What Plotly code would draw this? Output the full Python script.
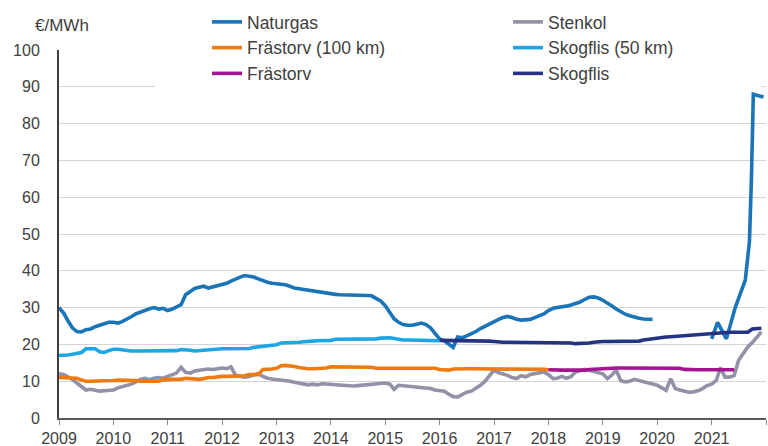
import pandas as pd
import plotly.graph_objects as go

# ---------------- data (€/MWh, monthly) ----------------
naturgas_start = "2009-01-01"
naturgas = [
    30, 28.5, 26.5, 24.5, 23.5, 23.4, 24, 24.2, 24.8, 25.2, 25.6, 26,          # 2009
    26, 25.8, 26.2, 26.8, 27.5, 28.3, 28.8, 29.3, 29.7, 30, 29.6, 29.8,        # 2010
    29.2, 29.6, 30.3, 30.8, 33.5, 34.5, 35.2, 35.5, 35.8, 35.3, 35.6, 36,      # 2011
    36.2, 36.6, 37.2, 37.8, 38.3, 38.7, 38.5, 38.3, 37.8, 37.3, 36.9, 36.6,    # 2012
    36.5, 36.4, 36.2, 35.8, 35.3, 35.1, 34.9, 34.7, 34.4, 34.2, 34.0, 33.9,    # 2013
    33.8, 33.6, 33.5, 33.5, 33.4, 33.4, 33.4, 33.4, 33.3, 33.2, 32.6, 31.8,    # 2014
    30.5, 28.5, 27, 26, 25.4, 25.2, 25.2, 25.5, 25.8, 25.4, 24.5, 23,          # 2015
    21.5, 21, 20.2, 19.2, 22, 21.8, 22.3, 22.8, 23.5, 24.3, 25, 25.6,          # 2016
    26.3, 26.8, 27.3, 27.6, 27.3, 26.8, 26.6, 26.6, 26.8, 27.3, 27.8, 28.3,    # 2017
    29.2, 29.8, 30, 30.1, 30.4, 30.7, 31, 31.5, 32.2, 32.8, 32.9, 32.6,        # 2018
    32, 31.3, 30.5, 29.6, 28.8, 28.2, 27.8, 27.4, 27.1, 26.9, 26.8, 26.8,      # 2019
]
naturgas_2021_dates = ["2021-01-01", "2021-02-10", "2021-04-10", "2021-05-01",
                       "2021-06-10", "2021-08-15", "2021-09-12", "2021-09-25",
                       "2021-10-08", "2021-10-25", "2021-12-15"]
naturgas_2021 = [21.5, 26, 21.5, 24.7, 30.2, 37.5, 48, 65, 88, 87.8, 87.2]

stenkol_start = "2009-01-01"
stenkol = [
    12, 11.8, 11.2, 10.5, 9.5, 8.5, 7.6, 7.8, 7.6, 7.3, 7.4, 7.5,              # 2009
    7.6, 8.2, 8.5, 8.8, 9.2, 9.8, 10.5, 10.8, 10.4, 10.8, 11.0, 10.8,          # 2010
    11.3, 11.6, 12.2, 13.8, 12.4, 12.2, 12.8, 13.0, 13.2, 13.3, 13.2, 13.5,    # 2011
    13.6, 13.4, 13.9, 11.6, 11.3, 11.1, 11.3, 11.8, 12.1, 11.3, 10.8, 10.6,    # 2012
    10.5, 10.4, 10.2, 10.0, 9.7, 9.4, 9.2, 9.0, 9.2, 9.0, 9.3, 9.2,            # 2013
    9.3, 9.1, 8.9, 8.8, 8.8, 8.7, 8.8, 8.9, 8.9, 9.1, 9.3, 9.4,                # 2014
    9.5, 9.2, 7.8, 8.9, 8.8, 8.6, 8.5, 8.3, 8.4, 8.2, 8.0, 7.6,                # 2015
    7.4, 7.3, 6.5, 5.8, 5.7, 6.5, 7.0, 7.3, 8.0, 8.9, 10.0, 11.5,              # 2016
    13.0, 12.3, 12.0, 11.6, 11.0, 10.7, 11.5, 11.2, 11.8, 12.0, 12.3, 12.5,    # 2017
    11.8, 10.7, 10.8, 11.3, 10.8, 11.2, 12.5, 12.8, 13.2, 13.0, 12.7, 12.2,    # 2018
    12.0, 10.7, 11.6, 13.0, 10.2, 9.8, 10.0, 10.5, 10.2, 9.8, 9.6, 9.4,        # 2019
    8.9, 8.2, 7.5, 10.7, 8.0, 7.6, 7.2, 7.0, 7.1, 7.4, 8.0, 8.8,               # 2020
    9.2, 10.2, 13.7, 11.1, 11.1, 11.5, 15.7, 17.5, 19.3, 20.5, 21.8, 23.4,     # 2021
]

frastorv100_start = "2009-01-01"
frastorv100 = [
    11, 11, 11, 10.9, 10.8, 10.3, 10, 10, 10, 10, 10, 10,                      # 2009
    10.2, 10.3, 10.3, 10.3, 10.3, 10.2, 10.0, 10.0, 10.0, 10.0, 10.0, 10.3,    # 2010
    10.5, 10.5, 10.5, 10.5, 10.8, 10.7, 10.5, 10.5, 10.7, 11.0, 11.0, 11.2,    # 2011
    11.3, 11.3, 11.3, 11.3, 11.3, 11.5, 11.8, 11.8, 11.8, 13.2, 13.2, 13.3,    # 2012
    13.5, 14.2, 14.3, 14.2, 14.0, 13.7, 13.5, 13.4, 13.4, 13.4, 13.4, 13.6,    # 2013
    13.9, 13.9, 13.9, 13.9, 13.9, 13.9, 13.9, 13.9, 13.8, 13.8, 13.5, 13.5,    # 2014
    13.5, 13.5, 13.5, 13.5, 13.5, 13.5, 13.5, 13.5, 13.5, 13.5, 13.5, 13.5,    # 2015
    13.2, 13.0, 13.0, 13.3, 13.4, 13.4, 13.4, 13.4, 13.4, 13.4, 13.4, 13.4,    # 2016
    13.4, 13.4, 13.3, 13.2, 13.2, 13.2, 13.2, 13.2, 13.2, 13.2, 13.2, 13.2,    # 2017
    13.1,                                                                      # 2018-01
]

skogflis50_start = "2009-01-01"
skogflis50 = [
    17, 17, 17.1, 17.3, 17.5, 17.8, 18.8, 18.9, 18.8, 18.0, 17.8, 18.3,        # 2009
    18.7, 18.7, 18.5, 18.3, 18.2, 18.2, 18.2, 18.2, 18.2, 18.2, 18.2, 18.2,    # 2010
    18.2, 18.2, 18.3, 18.6, 18.6, 18.4, 18.2, 18.3, 18.6, 18.7, 18.7, 18.7,    # 2011
    18.8, 18.8, 18.8, 18.8, 18.8, 18.8, 18.9, 19.2, 19.3, 19.5, 19.6, 19.8,    # 2012
    19.9, 20.4, 20.4, 20.5, 20.5, 20.6, 20.7, 20.9, 20.9, 21.0, 21.0, 21.0,    # 2013
    21.1, 21.4, 21.4, 21.4, 21.4, 21.4, 21.4, 21.4, 21.4, 21.4, 21.5, 21.7,    # 2014
    21.8, 21.8, 21.6, 21.3, 21.2, 21.2, 21.2, 21.2, 21.2, 21.2, 21.1, 21.0,    # 2015
    21.0,                                                                      # 2016-01
]

frastorv_start = "2018-01-01"
frastorv = [
    13.1, 13.0, 13.0, 13.0, 13.0, 13.0, 12.9, 12.8, 13.0, 13.2, 13.3, 13.4,    # 2018
    13.5, 13.5, 13.5, 13.6, 13.6, 13.6, 13.6, 13.6, 13.6, 13.6, 13.6, 13.6,    # 2019
    13.6, 13.6, 13.6, 13.6, 13.6, 13.5, 13.2, 13.1, 13.1, 13.1, 13.1, 13.1,    # 2020
    13.1, 13.1, 13.1, 13.1, 13.1, 13.1,                                        # 2021 H1
]

skogflis_start = "2016-01-01"
skogflis = [
    21.1, 21.1, 21.1, 21.0, 21.0, 21.0, 21.0, 21.0, 21.0, 21.0, 21.0, 20.9,    # 2016
    20.8, 20.6, 20.6, 20.6, 20.6, 20.6, 20.6, 20.6, 20.6, 20.6, 20.6, 20.6,    # 2017
    20.6, 20.6, 20.6, 20.6, 20.6, 20.4, 20.2, 20.2, 20.2, 20.4, 20.6, 20.8,    # 2018
    20.8, 20.8, 20.8, 20.8, 20.8, 20.8, 20.8, 20.8, 20.9, 21.2, 21.4, 21.6,    # 2019
    21.7, 21.9, 22.0, 22.1, 22.2, 22.4, 22.5, 22.6, 22.7, 22.8, 22.9, 23.0,    # 2020
    23.1, 23.2, 23.2, 23.3, 23.3, 23.3, 23.3, 23.3, 23.3, 24.2, 24.4, 24.4,    # 2021
]

year_ticks = [str(y) for y in range(2009, 2023)]
year_labels = [str(y) for y in range(2009, 2022)] + [""]
y_ticks = list(range(0, 101, 10))


def months(start, n):
    return list(pd.date_range(start, periods=n, freq="MS"))


# ---------------- figure ----------------
FONT = "Liberation Sans, Arial, sans-serif"
TXT = "#404040"
LW = 3.6

fig = go.Figure()

ng_x = months(naturgas_start, len(naturgas)) + [None] + list(pd.to_datetime(naturgas_2021_dates))
ng_y = naturgas + [None] + naturgas_2021
fig.add_trace(go.Scatter(x=ng_x, y=ng_y, name="Naturgas", mode="lines",
                         line=dict(color="#1a74b8", width=LW), connectgaps=False,
                         legend="legend"))
fig.add_trace(go.Scatter(x=months(stenkol_start, len(stenkol)), y=stenkol, name="Stenkol",
                         mode="lines", line=dict(color="#9191a8", width=LW), legend="legend2"))
fig.add_trace(go.Scatter(x=months(frastorv100_start, len(frastorv100)), y=frastorv100,
                         name="Frästorv (100 km)", mode="lines",
                         line=dict(color="#ef7b10", width=LW), legend="legend"))
fig.add_trace(go.Scatter(x=months(skogflis50_start, len(skogflis50)), y=skogflis50,
                         name="Skogflis (50 km)", mode="lines",
                         line=dict(color="#1ea5e3", width=LW), legend="legend2"))
fig.add_trace(go.Scatter(x=months(frastorv_start, len(frastorv)), y=frastorv,
                         name="Frästorv", mode="lines",
                         line=dict(color="#a3158e", width=LW), legend="legend"))
fig.add_trace(go.Scatter(x=months(skogflis_start, len(skogflis)), y=skogflis,
                         name="Skogflis", mode="lines",
                         line=dict(color="#253383", width=LW), legend="legend2"))

W, H = 768, 446
ML, MR, MT, MB = 59, 2, 50, 28
PW, PH = W - ML - MR, H - MT - MB
X0, X1 = pd.Timestamp("2009-01-01"), pd.Timestamp("2022-01-01")


def px_x(px):
    return (px - ML) / PW


def px_y(py):
    return (H - MB - py) / PH


def px_date(px):
    return X0 + (X1 - X0) * px_x(px)


legend_common = dict(bgcolor="rgba(0,0,0,0)", borderwidth=0,
                     font=dict(family=FONT, size=17.5, color=TXT),
                     xanchor="left", yanchor="top", orientation="v",
                     tracegroupgap=0, itemwidth=30)

fig.update_layout(
    width=W, height=H,
    margin=dict(l=ML, r=MR, t=MT, b=MB, pad=0, autoexpand=False),
    paper_bgcolor="white", plot_bgcolor="white",
    font=dict(family=FONT, size=17, color=TXT),
    showlegend=True,
    legend=dict(x=px_x(207), y=px_y(4), **legend_common),
    legend2=dict(x=px_x(508), y=px_y(4), **legend_common),
    xaxis=dict(type="date", range=[X0, X1], automargin=False,
               tickmode="array", tickvals=year_ticks, ticktext=year_labels,
               showgrid=False, showline=True, linecolor="#595959", linewidth=1.5,
               ticks="outside", ticklen=5, tickcolor="#8c8c8c", tickwidth=1,
               ticklabelstandoff=0,
               tickfont=dict(family=FONT, size=16, color=TXT), zeroline=False),
    yaxis=dict(range=[0, 100], tickmode="array", tickvals=y_ticks, automargin=False,
               showgrid=True, gridcolor="#d4d4d4", gridwidth=1,
               showline=True, linecolor="#404040", linewidth=2,
               ticks="", ticklabelstandoff=14,
               tickfont=dict(family=FONT, size=16, color=TXT), zeroline=False),
    # white legend box: hides the 90/100 gridlines behind the legend, stays under the lines
    shapes=[dict(type="rect", xref="x", yref="y", layer="between",
                 x0=px_date(155), x1=px_date(761), y0=89, y1=101,
                 fillcolor="white", line=dict(width=0))],
    annotations=[dict(text="€/MWh", xref="paper", yref="paper",
                      x=px_x(33), y=px_y(26), xanchor="left", yanchor="middle",
                      showarrow=False, font=dict(family=FONT, size=17, color=TXT))],
)

fig.write_html("out.html", config={"displayModeBar": False},
               post_script="document.body.style.margin='0';document.body.style.overflow='hidden';")
